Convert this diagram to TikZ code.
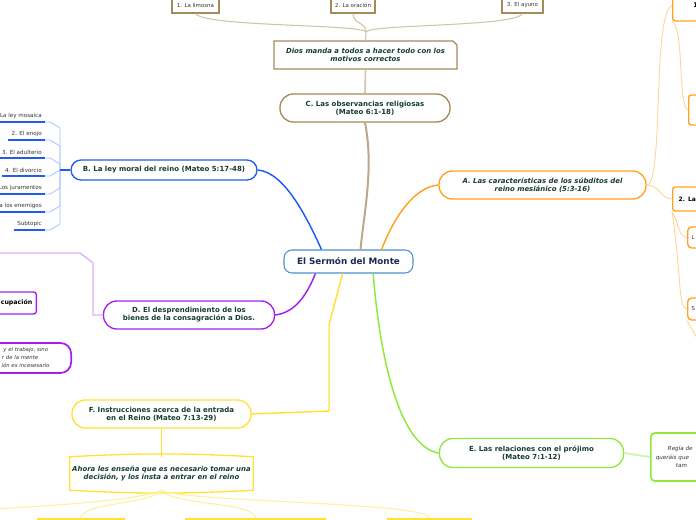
\documentclass[tikz,border=0pt]{standalone}
\usepackage{fontspec}
\setmainfont{DejaVu Sans}
\usetikzlibrary{shapes.misc}
\definecolor{cMain}{HTML}{4A90D2}
\definecolor{cNavy}{HTML}{1C2A4E}
\definecolor{cTxt}{HTML}{163D2E}
\definecolor{cGray}{HTML}{333333}
\definecolor{cTan}{HTML}{A38B5A}
\definecolor{cTanL}{HTML}{D2C4A6}
\definecolor{cTanC}{HTML}{B9A98A}
\definecolor{cBlue}{HTML}{1F5CF5}
\definecolor{cBlueL}{HTML}{A8C4FF}
\definecolor{cPur}{HTML}{A21FF0}
\definecolor{cPurL}{HTML}{DDB0F5}
\definecolor{cOr}{HTML}{FFA21F}
\definecolor{cOrL}{HTML}{FFD69A}
\definecolor{cGr}{HTML}{8FE83A}
\definecolor{cGrL}{HTML}{D2F5B0}
\definecolor{cYe}{HTML}{FFE234}
\definecolor{cYeL}{HTML}{FFF09E}
\begin{document}
\begin{tikzpicture}[x=0.75pt,y=-0.75pt,
  every node/.style={inner sep=0pt},
  mainbox/.style={draw=cMain, line width=0.8pt, fill=white, rounded corners=6pt, minimum width=96.75pt, minimum height=17.25pt, font=\fontsize{6.6}{8}\selectfont\bfseries, text=cNavy},
  branch/.style={line width=1pt, fill=white, rounded corners=10pt, minimum height=21pt, align=center, font=\fontsize{5.25}{6}\selectfont\bfseries, text=cTxt},
  ibranch/.style={branch, font=\fontsize{5.2}{6}\selectfont\bfseries\itshape},
  topbox/.style={draw=cTan, line width=1pt, fill=white, minimum height=12pt, font=\fontsize{4.1}{5}\selectfont, text=cGray},
  child/.style={font=\fontsize{4.2}{5}\selectfont, text=cGray, anchor=south east, inner ysep=2pt, inner xsep=2.25pt},
  uline/.style={draw=cBlue, line width=1.1pt},
  bline/.style={draw=cBlueL, line width=0.6pt},
  obox/.style={draw=cOr, line width=1pt, fill=white, rounded corners=2pt, anchor=west, align=left, text width=30pt, font=\fontsize{4.8}{6}\selectfont\bfseries, text=black},
  ybox/.style={draw=cYe, line width=1.3pt, fill=white, anchor=north, minimum height=20pt},
  conn/.style={line width=1.1pt},
]
\useasboundingbox (0,0) rectangle (696,520);
\clip (0,0) rectangle (696,520);

% central
\node[mainbox] (main) at (348.5,261.5) {El Sermón del Monte};

% C branch
\node[branch, draw=cTan, minimum width=127.5pt] (C) at (365,108) {C. Las observancias religiosas\\(Mateo 6:1-18)};
\node[ibranch, draw=cTan, chamfered rectangle, chamfered rectangle corners=north east, chamfered rectangle xsep=1.5pt, chamfered rectangle ysep=1.5pt, rounded corners=0pt, minimum width=137.25pt, minimum height=21pt] (dios) at (365.5,55) {Dios manda a todos a hacer todo con los\\motivos correctos};
\node[topbox, minimum width=35.25pt] (t1) at (195.5,5) {1. La limosna};
\node[topbox, minimum width=33pt] (t2) at (353,5) {2. La oración};
\node[topbox, minimum width=30.75pt] (t3) at (522.5,5) {3. El ayuno};
\coordinate (tj) at (366,32);
\draw[cTanC, line width=1.5pt] (main.45) .. controls (364,212) and (374,168) .. (C.south);
\draw[cTanL, line width=1.2pt] (C.north) -- (dios.south);
\draw[cTanL, line width=0.8pt] (dios.north) -- (tj);
\draw[cTanL, line width=0.8pt] (tj) .. controls (362,24) and (205,27) .. (t1.south);
\draw[cTanL, line width=0.8pt] (tj) .. controls (366,22) and (353,24) .. (t2.south);
\draw[cTanL, line width=0.8pt] (tj) .. controls (370,24) and (515,27) .. (t3.south);

% B branch
\node[branch, draw=cBlue, minimum width=139.5pt, minimum height=15pt, rounded corners=7.5pt] (B) at (164,170) {B. La ley moral del reino (Mateo 5:17-48)};
\draw[cBlue, conn] (main.156) .. controls (308,220) and (285,172) .. (B.east);
\coordinate (bj) at (60,170);
\node[child] (b1) at (45,122) {La ley mosaica};
\node[child] (b2) at (45,140) {2. El enojo};
\node[child] (b3) at (45,158) {3. El adulterio};
\node[child] (b4) at (45,176) {4. El divorcio};
\node[child] (b5) at (45,194) {Los juramentos};
\node[child] (b6) at (45,212) {a los enemigos};
\node[child] (b7) at (45,230) {Subtopic};
\foreach \n/\y in {b1/128,b2/146,b3/164}{
  \draw[bline] (\n.south east) -- ++(5,0) -- (60,\y) -- (bj);
}
\draw[bline] (b4.south east) -- ++(5,0) -- (bj);
\foreach \n/\y in {b5/188,b6/206,b7/224}{
  \draw[bline] (\n.south east) -- ++(5,0) -- (60,\y) -- (bj);
}
\foreach \n in {b1,b2,b3,b4,b5,b6,b7}{
  \draw[uline] (\n.south west) -- (\n.south east);
}
\draw[cBlue, line width=1.2pt] (bj) -- (B.west);

% D branch
\node[branch, draw=cPur, minimum width=128.25pt] (D) at (189,315) {D. El desprendimiento de los\\bienes de la consagración a Dios.};
\draw[cPur, conn] (main.200) .. controls (305,300) and (292,313) .. (D.east);
\coordinate (dfree) at (-5,253);
\draw[cPurL, line width=1pt] (D.west) -- (93,315) -- (93,263) -- (80,253) -- (dfree);
\node[draw=cPur, line width=1pt, fill=white, rounded corners=2pt, anchor=east, minimum height=16.5pt, text width=50pt, align=right, inner xsep=3pt, font=\fontsize{4.7}{5.5}\selectfont\bfseries, text=black] (pc) at (37,303) {cupación};
\node[draw=cPur, line width=1.3pt, fill=white, rounded corners=8pt, anchor=east, minimum height=22.5pt, text width=70pt, align=right, inner xsep=15pt, font=\fontsize{4}{6}\selectfont\itshape, text=cGray] (pt) at (72,358) {y el trabajo, sino\kern2.25pt\null\\r de la mente\kern9.75pt\null\\ión es incesesario.};

% A branch
\node[ibranch, draw=cOr, minimum width=155.25pt] (A) at (542.5,185) {A. Las características de los súbditos del\\reino mesiánico (5:3-16)};
\draw[cOr, conn] (main.20) .. controls (395,215) and (415,187) .. (A.west);
\node[obox, minimum height=23.25pt, inner xsep=15.5pt] (r1) at (672,5.5) {1};
\node[obox, minimum height=22.5pt, inner xsep=3pt, text width=20pt] (r1b) at (688,110) {};
\node[obox, minimum height=18pt, inner xsep=4.5pt, font=\fontsize{4.5}{6}\selectfont\bfseries] (r2) at (672,199) {2. La};
\node[obox, minimum height=15.75pt, inner xsep=3pt, text width=20pt, rounded corners=3pt, font=\fontsize{4}{5}\selectfont, text=cGray] (rL) at (687,237.5) {L};
\node[obox, minimum height=16.5pt, inner xsep=3pt, text width=20pt, rounded corners=3pt, font=\fontsize{4}{5}\selectfont, text=cGray] (rS) at (687,309) {S};
\coordinate (sfree) at (700,345);
\draw[cOrL, line width=0.7pt] (A.east) .. controls (664,185) and (652,14) .. (r1.west);
\draw[cOrL, line width=0.7pt] (r1.south west) .. controls (684,25) and (678,108) .. (r1b.west);
\draw[cOrL, line width=0.7pt] (A.east) .. controls (660,185) and (660,199) .. (r2.west);
\draw[cOrL, line width=0.7pt] (r2.south west) .. controls (680,225) and (678,237) .. (rL.west);
\draw[cOrL, line width=0.7pt] (r2.south west) .. controls (682,280) and (678,309) .. (rS.west);
\draw[cOrL, line width=0.7pt] (rS.south west) .. controls (692,330) and (696,335) .. (sfree);

% E branch
\node[branch, draw=cGr, minimum width=138pt, minimum height=21.75pt] (E) at (531.5,453) {E. Las relaciones con el prójimo\\(Mateo 7:1-12)};
\draw[cGr, conn] (main.334) .. controls (380,360) and (400,447) .. (E.west);
\node[draw=cGr, line width=1.3pt, fill=white, rounded corners=3pt, anchor=west, minimum height=36pt, text width=50pt, align=left, inner xsep=3.75pt, font=\fontsize{4.2}{6.4}\selectfont\itshape, text=cGray] (regla) at (650,457) {\hspace*{9pt}Regla de\\queráis que\\\hspace*{15pt}tam\\[-3pt]};
\draw[cGrL, line width=1.5pt] (E.east) -- (regla.west);

% F branch
\node[branch, draw=cYe, minimum width=134.25pt] (F) at (161.5,414) {F. Instrucciones acerca de la entrada\\en el Reino (Mateo 7:13-29)};
\coordinate (fa) at (329,325);
\coordinate (fb) at (329,411);
\draw[cYe, conn] (main.244) -- (fa) -- (fb) -- (F.east);
\node[font=\fontsize{5.2}{6}\selectfont\bfseries\itshape, text=cTxt, align=center, minimum width=137.25pt, minimum height=24.75pt] (ahora) at (161.5,473.5) {Ahora les enseña que es necesario tomar una\\decisión, y los insta a entrar en el reino};
\draw[cYe, line width=1pt] (ahora.north west) to[bend left=3] (ahora.north east) -- (ahora.south east) to[bend left=3] (ahora.south west) -- cycle;
\draw[cYe, line width=0.8pt] (F.south) -- (ahora.north);
\node[ybox, minimum width=64.5pt] (y1) at (81,518) {};
\node[ybox, minimum width=104.25pt] (y2) at (255.5,518) {};
\node[ybox, minimum width=62.25pt] (y3) at (429.5,518) {};
\coordinate (yfree) at (-5,509);
\draw[cYeL, line width=0.8pt] (ahora.south) .. controls (140,500) and (60,505) .. (yfree);
\draw[cYeL, line width=0.8pt] (ahora.south) .. controls (150,505) and (82,502) .. (y1.north);
\draw[cYeL, line width=0.8pt] (ahora.south) .. controls (172,505) and (255,502) .. (y2.north);
\draw[cYeL, line width=0.8pt] (ahora.south) .. controls (180,502) and (428,502) .. (y3.north);
\end{tikzpicture}
\end{document}
